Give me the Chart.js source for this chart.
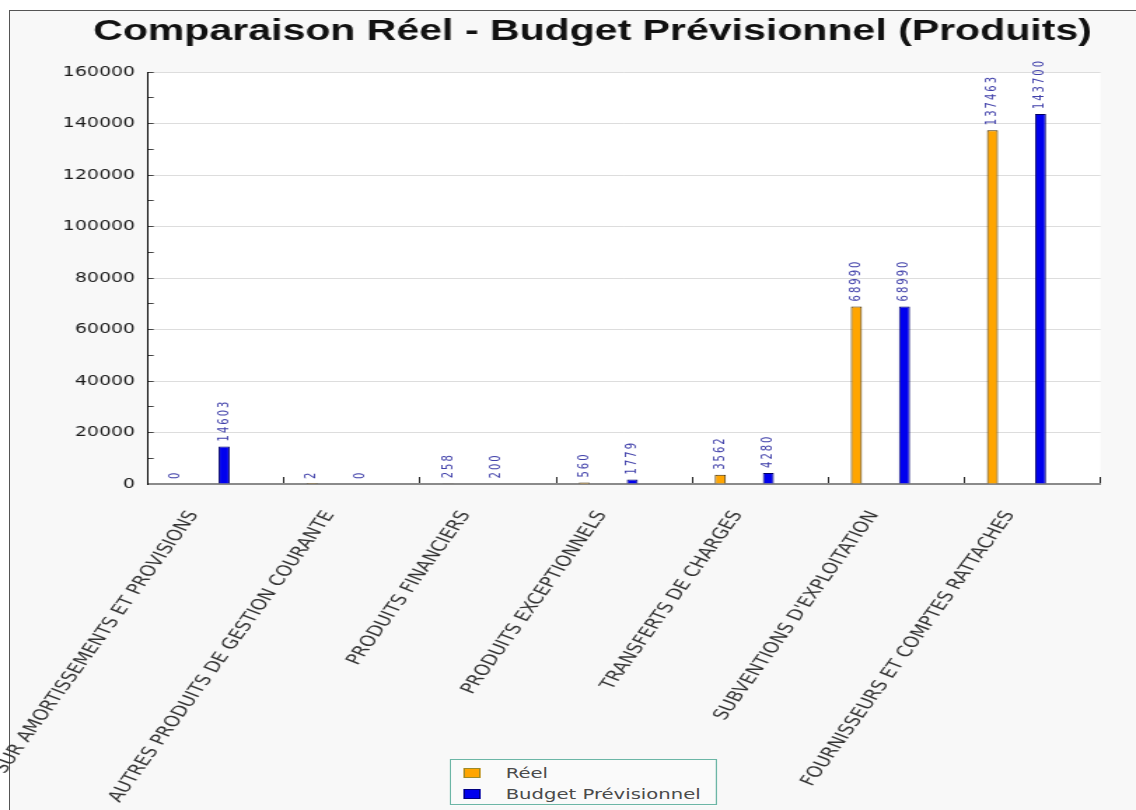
<!DOCTYPE html>
<html lang="fr">
<head>
<meta charset="utf-8">
<title>Comparaison Réel - Budget Prévisionnel (Produits)</title>
<script src="https://cdn.jsdelivr.net/npm/chart.js@4.4.1/dist/chart.umd.min.js"></script>
<style>
  html, body { margin: 0; padding: 0; background: #fff; overflow: hidden; }
  body { width: 1136px; height: 810px; position: relative; }
  #frame { position: absolute; left: 9px; top: 10px; right: -20px; bottom: -20px;
           border-left: 1px solid #555; border-top: 1px solid #555; background: #f8f8f8; }
  /* the original picture is stretched horizontally, so the whole chart is too */
  #stage { position: absolute; left: 0; top: 0; width: 811px; height: 810px;
           transform: scaleX(1.4007); transform-origin: 0 0; }
  #stage canvas { position: absolute; left: 0; top: 0; }
  #legend { position: absolute; left: 321px; top: 759px; width: 191px; height: 46px; box-sizing: border-box;
            border: 1px solid #6cb6a6; background: #fafafa; font: 14px "DejaVu Sans", sans-serif; color: #4a4a4a; }
  .item { position: absolute; left: 0; width: 100%; height: 20px; line-height: 20px; white-space: nowrap; }
  .swatch { position: absolute; left: 9px; top: 5px; width: 12px; height: 10px; box-sizing: border-box; border: 1px solid; }
  .label { position: absolute; left: 39px; top: 0; }
</style>
</head>
<body>
<div id="frame"></div>
<div id="stage">
  <canvas id="chart" width="811" height="810"></canvas>
  <div id="legend"></div>
</div>
<script>
const categories = [
    'REPRISES SUR AMORTISSEMENTS ET PROVISIONS',
    'AUTRES PRODUITS DE GESTION COURANTE',
    'PRODUITS FINANCIERS',
    'PRODUITS EXCEPTIONNELS',
    'TRANSFERTS DE CHARGES',
    "SUBVENTIONS D'EXPLOITATION",
    'FOURNISSEURS ET COMPTES RATTACHES'
];
const reel = [0, 2, 258, 560, 3562, 68990, 137463];
const budget = [14603, 0, 200, 1779, 4280, 68990, 143700];

const yMax = 160000;
const yStep = 20000;
const yMinorStep = 10000;

// empty series: they only push the two real bars to the left of each category, like the original
const spacer = () => ({ label: '', data: [] });

// white plot area on the grey page
const plotBackground = {
    id: 'plotBackground',
    beforeDraw(chart) {
        const { ctx, chartArea: a } = chart;
        ctx.save();
        ctx.fillStyle = '#fff';
        ctx.fillRect(a.left, a.top, a.right - a.left, a.bottom - a.top);
        ctx.restore();
    }
};

// the y axis box is narrow (title centring needs the left padding), let its labels overflow into it
const yLabelRoom = {
    id: 'yLabelRoom',
    afterLayout(chart) {
        chart.scales.y.left = 0;
    }
};

// vertical values above each bar
const barValues = {
    id: 'barValues',
    afterDatasetsDraw(chart) {
        const ctx = chart.ctx;
        ctx.save();
        ctx.font = '10px "DejaVu Sans"';
        ctx.letterSpacing = '2px';
        ctx.fillStyle = '#4040aa';
        ctx.textAlign = 'left';
        ctx.textBaseline = 'middle';
        chart.data.datasets.forEach((ds, i) => {
            if (!ds.label) return;
            chart.getDatasetMeta(i).data.forEach((bar, j) => {
                ctx.save();
                ctx.translate(bar.x, bar.y - 5);
                ctx.rotate(-Math.PI / 2);
                ctx.fillText(String(ds.data[j]), 0, 0);
                ctx.restore();
            });
        });
        ctx.restore();
    }
};

const chart = new Chart(document.getElementById('chart'), {
    type: 'bar',
    data: {
        labels: categories,
        datasets: [
            { label: 'Réel', data: reel, backgroundColor: '#ffa500', borderColor: '#3d2a00', borderWidth: 1, legendBorder: '#9c8a2a' },
            spacer(), spacer(),
            { label: 'Budget Prévisionnel', data: budget, backgroundColor: '#0000ee', borderColor: '#000066', borderWidth: 1, legendBorder: '#000080' },
            spacer(), spacer()
        ]
    },
    options: {
        responsive: false,
        animation: false,
        layout: { padding: { left: 60.3, right: 25.3, top: 10, bottom: 0 } },
        datasets: { bar: { categoryPercentage: 0.706, barPercentage: 0.69 } },
        scales: {
            x: {
                grid: { offset: true, drawOnChartArea: false, tickLength: -7, tickColor: '#222' },
                border: { color: '#8a8a8a', width: 2 },
                ticks: {
                    autoSkip: false,
                    minRotation: 62,
                    maxRotation: 62,
                    labelOffset: -16,
                    padding: 31,
                    color: '#333',
                    font: { family: 'DejaVu Sans', size: 15 }
                },
                afterFit(scale) {
                    scale.height = 326;
                    scale.paddingLeft = 0;
                    scale.paddingRight = 0;
                }
            },
            y: {
                min: 0,
                max: yMax,
                ticks: {
                    stepSize: yMinorStep,
                    autoSkip: false,
                    padding: 13.3,
                    color: '#1a1a1a',
                    font: { family: 'DejaVu Sans', size: 13.5 },
                    callback: v => (v % yStep === 0 ? String(v) : '')
                },
                grid: {
                    color: c => (c.tick && c.tick.value % yStep ? 'rgba(0,0,0,0)' : '#dddddd'),
                    tickLength: -4,
                    tickColor: '#444'
                },
                border: { color: '#000', width: 1 },
                afterFit(scale) {
                    scale.width = 45.4;
                }
            }
        },
        plugins: {
            legend: { display: false },
            tooltip: { enabled: false },
            title: {
                display: true,
                text: 'Comparaison Réel - Budget Prévisionnel (Produits)',
                color: '#111',
                font: { family: 'Liberation Sans', size: 29.3, weight: 'bold' },
                padding: { top: 4, bottom: 23 }
            }
        }
    },
    plugins: [plotBackground, yLabelRoom, barValues]
});

// legend box built from the real series
const legend = document.getElementById('legend');
chart.data.datasets.filter(ds => ds.label).forEach((ds, i) => {
    const item = document.createElement('div');
    item.className = 'item';
    item.style.top = (3 + i * 21) + 'px';
    const swatch = document.createElement('span');
    swatch.className = 'swatch';
    swatch.style.background = ds.backgroundColor;
    swatch.style.borderColor = ds.legendBorder;
    const text = document.createElement('span');
    text.className = 'label';
    text.textContent = ds.label;
    item.appendChild(swatch);
    item.appendChild(text);
    legend.appendChild(item);
});
</script>
</body>
</html>
